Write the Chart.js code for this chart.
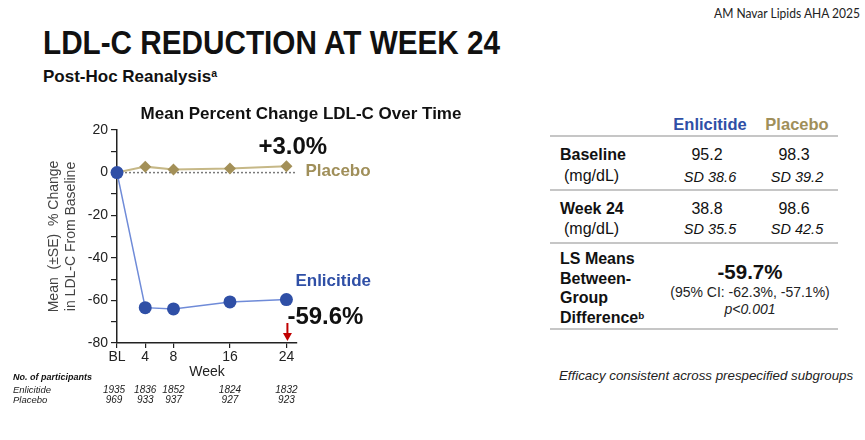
<!DOCTYPE html>
<html>
<head>
<meta charset="utf-8">
<title>LDL-C reduction at week 24</title>
<script src="https://cdn.jsdelivr.net/npm/chart.js@4.4.1/dist/chart.umd.min.js"></script>
<style>
  html, body { margin: 0; padding: 0; background: #fff; }
  body {
    width: 865px; height: 440px; position: relative; overflow: hidden;
    font-family: 'Liberation Sans', Arial, sans-serif; color: #111;
  }
  .t { position: absolute; line-height: 1; white-space: nowrap; }
  .rule { position: absolute; left: 550px; width: 288px; height: 2px; background: #c6c6c6; }
  #ldlChart { position: absolute; left: 0; top: 100px; }
  sup { font-size: 0.62em; vertical-align: 0.45em; line-height: 0; }
</style>
</head>
<body>
<canvas id="ldlChart" width="470" height="320"></canvas>

<script>
// --- chart data ---
const weeks = [0, 4, 8, 16, 24];
const weekLabels = ['BL', '4', '8', '16', '24'];
const enlicitidePct = [0, -63.4, -64.0, -60.7, -59.6];
const placeboPct = [0, 2.8, 1.4, 1.9, 3.0];
const enlicitideN = [1935, 1836, 1852, 1824, 1832];
const placeboN = [969, 933, 937, 927, 923];
const enlicitideLabel = '-59.6%';
const placeboLabel = '+3.0%';
const xMax = 25.5;

// --- table data ---
const groups = ['Enlicitide', 'Placebo'];
const baselineMean = ['95.2', '98.3'];
const baselineSD = ['38.6', '39.2'];
const week24Mean = ['38.8', '98.6'];
const week24SD = ['35.5', '42.5'];
const lsDiff = '-59.7%';
const lsCI = '(95% CI: -62.3%, -57.1%)';
const lsP = 'p<0.001';

const BLUE = '#2f4fa6';
const GOLD = '#a08f5a';

// absolutely placed text, cy = visual centre line
function put(html, o) {
  const d = document.createElement('div');
  d.className = 't';
  d.innerHTML = html;
  d.style.fontSize = o.size + 'px';
  d.style.top = (o.cy - o.size / 2) + 'px';
  d.style.left = o.x + 'px';
  if (o.bold) d.style.fontWeight = 'bold';
  if (o.italic) d.style.fontStyle = 'italic';
  if (o.color) d.style.color = o.color;
  if (o.family) d.style.fontFamily = o.family;
  let tf = '';
  if (o.align === 'center') tf += 'translateX(-50%) ';
  if (o.align === 'right') tf += 'translateX(-100%) ';
  if (o.sx) tf += 'scaleX(' + o.sx + ')';
  if (tf) {
    d.style.transform = tf;
    d.style.transformOrigin = o.align === 'right' ? 'right center' : (o.align === 'center' ? 'center' : 'left center');
  }
  document.body.appendChild(d);
}
function rule(y) {
  const r = document.createElement('div');
  r.className = 'rule';
  r.style.top = (y - 1) + 'px';
  document.body.appendChild(r);
}

// headings
put('AM Navar Lipids AHA 2025', { x: 860, cy: 13, size: 14, family: 'Lato, sans-serif', align: 'right', color: '#222', sx: 0.86 });
put('LDL-C REDUCTION AT WEEK 24', { x: 43, cy: 42, size: 33, bold: true, sx: 0.9 });
put('Post-Hoc Reanalysis<sup>a</sup>', { x: 43, cy: 76, size: 17, bold: true });
put('Mean Percent Change LDL-C Over Time', { x: 301, cy: 113, size: 17, bold: true, align: 'center' });

// right hand table
const colX = [710, 797];
put(groups[0], { x: colX[0], cy: 124, size: 16.5, bold: true, color: BLUE, align: 'center' });
put(groups[1], { x: colX[1], cy: 124, size: 16.5, bold: true, color: GOLD, align: 'center' });
rule(136);
put('Baseline', { x: 560, cy: 155, size: 16, bold: true });
put('(mg/dL)', { x: 564, cy: 176, size: 16 });
put('Week 24', { x: 560, cy: 209, size: 16, bold: true });
put('(mg/dL)', { x: 564, cy: 229, size: 16 });
for (let i = 0; i < 2; i++) {
  put(baselineMean[i], { x: colX[i] - 3, cy: 155, size: 16, align: 'center' });
  put('SD ' + baselineSD[i], { x: colX[i], cy: 177, size: 14.5, italic: true, align: 'center' });
  put(week24Mean[i], { x: colX[i] - 3, cy: 209, size: 16, align: 'center' });
  put('SD ' + week24SD[i], { x: colX[i], cy: 229, size: 14.5, italic: true, align: 'center' });
}
rule(190);
rule(243);
put('LS Means', { x: 560, cy: 259, size: 16, bold: true });
put('Between-', { x: 560, cy: 278.5, size: 16, bold: true });
put('Group', { x: 560, cy: 298, size: 16, bold: true });
put('Difference<sup>b</sup>', { x: 560, cy: 317.5, size: 16, bold: true });
put(lsDiff, { x: 750, cy: 272, size: 20.5, bold: true, align: 'center' });
put(lsCI, { x: 750, cy: 292, size: 14, align: 'center', color: '#222' });
put(lsP, { x: 750, cy: 309, size: 14, italic: true, align: 'center', color: '#222' });
rule(329);
put('Efficacy consistent across prespecified subgroups', { x: 559, cy: 376, size: 13.3, italic: true, color: '#222' });

// --- annotations, arrow and participant counts drawn on the chart canvas ---
const annotations = {
  id: 'annotations',
  afterDraw(chart) {
    const { ctx, chartArea, scales: { x, y } } = chart;
    const last = weeks.length - 1;
    const px = x.getPixelForValue(weeks[last]);
    const pyP = y.getPixelForValue(placeboPct[last]);
    const pyE = y.getPixelForValue(enlicitidePct[last]);
    const F = '"Liberation Sans", Arial, sans-serif';

    ctx.save();
    ctx.textBaseline = 'middle';
    ctx.textAlign = 'left';
    ctx.fillStyle = '#111';
    ctx.font = 'bold 24px ' + F;
    ctx.fillText(placeboLabel, px - 28, pyP - 19);
    ctx.fillText(enlicitideLabel, px + 1, pyE + 18);
    ctx.font = 'bold 17px ' + F;
    ctx.fillStyle = GOLD;
    ctx.fillText('Placebo', px + 19, pyP + 5);
    ctx.fillStyle = BLUE;
    ctx.fillText('Enlicitide', px + 9, pyE - 18);

    // red arrow down to week 24
    const ax = px + 1;
    const top = chartArea.bottom - 20, tip = chartArea.bottom - 2;
    ctx.strokeStyle = '#c00000';
    ctx.fillStyle = '#c00000';
    ctx.lineWidth = 2;
    ctx.beginPath();
    ctx.moveTo(ax, top);
    ctx.lineTo(ax, tip - 6);
    ctx.stroke();
    ctx.beginPath();
    ctx.moveTo(ax - 4.5, tip - 8);
    ctx.lineTo(ax + 4.5, tip - 8);
    ctx.lineTo(ax, tip);
    ctx.closePath();
    ctx.fill();

    // x axis title
    ctx.fillStyle = '#222';
    ctx.textAlign = 'center';
    ctx.font = '14px ' + F;
    ctx.fillText('Week', (chartArea.left + chartArea.right) / 2, chartArea.bottom + 29);

    // number of participants
    const r0 = chartArea.bottom + 35;
    ctx.textAlign = 'left';
    ctx.font = 'bold italic 9px ' + F;
    ctx.fillStyle = '#111';
    ctx.fillText('No. of participants', 13, r0);
    ctx.font = 'italic 9.5px ' + F;
    ctx.fillStyle = '#222';
    ctx.fillText('Enlicitide', 13, r0 + 12);
    ctx.fillText('Placebo', 13, r0 + 22);
    ctx.textAlign = 'center';
    ctx.font = 'italic 10px ' + F;
    weeks.forEach((w, i) => {
      const wx = x.getPixelForValue(w);
      ctx.fillText(String(enlicitideN[i]), wx - (i === 0 ? 3 : 0), r0 + 12);
      ctx.fillText(String(placeboN[i]), wx - (i === 0 ? 3 : 0), r0 + 22);
    });
    ctx.restore();
  }
};

const toPoints = vals => weeks.map((w, i) => ({ x: w, y: vals[i] }));

new Chart(document.getElementById('ldlChart'), {
  type: 'line',
  data: {
    datasets: [
      {
        label: 'Enlicitide',
        data: toPoints(enlicitidePct),
        borderColor: '#6f8bd8',
        borderWidth: 1.5,
        pointRadius: 6.5,
        pointBackgroundColor: BLUE,
        pointBorderColor: BLUE,
        pointBorderWidth: 0,
        tension: 0,
        clip: false
      },
      {
        label: 'Placebo',
        data: toPoints(placeboPct),
        borderColor: '#c6b887',
        borderWidth: 2,
        pointStyle: 'rectRot',
        pointRadius: 6,
        pointBackgroundColor: '#a39058',
        pointBorderColor: '#a39058',
        pointBorderWidth: 0,
        tension: 0,
        clip: false
      },
      {
        label: 'zero',
        data: [{ x: 0, y: 0 }, { x: xMax, y: 0 }],
        borderColor: '#7a7a7a',
        borderWidth: 1.5,
        borderDash: [2, 2],
        pointRadius: 0
      }
    ]
  },
  options: {
    responsive: false,
    animation: false,
    layout: { padding: { left: 0, right: 173, top: 30, bottom: 47 } },
    plugins: {
      legend: { display: false },
      tooltip: { enabled: false },
      title: { display: false }
    },
    scales: {
      x: {
        type: 'linear',
        min: 0,
        max: xMax,
        afterBuildTicks: s => { s.ticks = weeks.map(v => ({ value: v })); },
        afterFit: s => { s.height = 30; },
        ticks: {
          autoSkip: false,
          maxRotation: 0,
          padding: 1,
          color: '#222',
          font: { size: 14, family: '"Liberation Sans", Arial' },
          callback: v => weekLabels[weeks.indexOf(v)] ?? ''
        },
        grid: { drawOnChartArea: false, tickLength: 5, color: '#222', lineWidth: 1.2 },
        border: { color: '#222', width: 1.5 }
      },
      y: {
        min: -80,
        max: 20,
        afterFit: s => { s.width = 117; },
        ticks: {
          stepSize: 10,
          color: '#222',
          font: { size: 14, family: '"Liberation Sans", Arial' },
          callback: v => (v % 20 === 0 ? v : '')
        },
        grid: { drawOnChartArea: false, tickLength: 6, color: '#222', lineWidth: 1.2 },
        border: { color: '#222', width: 1.5 },
        title: {
          display: true,
          text: ['Mean  (±SE)  % Change', 'in LDL-C From Baseline'],
          color: '#444',
          font: { size: 14, family: '"Liberation Sans", Arial', lineHeight: 1.25 },
          padding: { top: 45, bottom: 0 }
        }
      }
    }
  },
  plugins: [annotations]
});
</script>
</body>
</html>
